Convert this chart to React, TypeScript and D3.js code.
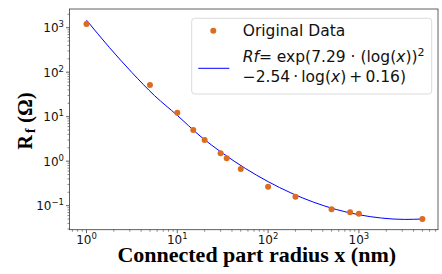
import React from "react";
import * as d3 from "d3";

// measured data points (connected part radius in nm, Rf in ohm)
const radius = [1, 5, 10, 15, 20, 30, 35, 50, 100, 200, 500, 800, 1000, 5000];
const rfValues = [1210, 51.5, 12.3, 5.0, 3.0, 1.5, 1.16, 0.67, 0.267, 0.159, 0.083, 0.071, 0.066, 0.05];

// fitted curve
const fitX = [1, 1.78, 3.16, 5.62, 10, 17.8, 31.6, 56.2, 100, 178, 316, 562, 1000, 1778, 3162, 5000];
const fitY = [1480, 363, 98.7, 29.7, 10.7, 3.69, 1.51, 0.687, 0.347, 0.194, 0.12, 0.0822, 0.0625, 0.0527, 0.0491, 0.0501];

const xTicks = [1, 10, 100, 1000];
const xTickExp = ["0", "1", "2", "3"];
const yTicks = [0.1, 1, 10, 100, 1000];
const yTickExp = ["\u22121", "0", "1", "2", "3"];

const W = 442;
const H = 274;
const plot = { left: 69.5, right: 438, top: 9, bottom: 229.7 };

export default function App() {
  const x = d3
    .scaleLog()
    .domain([Math.pow(10, -0.187), Math.pow(10, 3.871)])
    .range([plot.left, plot.right]);
  const y = d3
    .scaleLog()
    .domain([Math.pow(10, -1.54), Math.pow(10, 3.42)])
    .range([plot.bottom, plot.top]);

  const xMinor = x.ticks().filter((t) => !xTicks.includes(t));
  const yMinor = y.ticks().filter((t) => !yTicks.some((m) => Math.abs(m - t) < 1e-9));

  const fitLine = d3
    .line<number>()
    .x((d) => x(d))
    .y((_, i) => y(fitY[i]))
    .curve(d3.curveMonotoneX);

  const tickFont = "DejaVu Sans";
  const spine = "#3a3a3a";
  const serif = "Liberation Serif";

  return (
    <svg width={W} height={H} style={{ position: "absolute", left: 0, top: 0 }}>
      <rect width={W} height={H} fill="white" />

      {/* x ticks */}
      {xMinor.map((t, i) => (
        <line key={"xm" + i} x1={x(t)} x2={x(t)} y1={plot.bottom} y2={plot.bottom + 2} stroke={spine} strokeWidth={0.6} />
      ))}
      {xTicks.map((t, i) => (
        <g key={"x" + i}>
          <line x1={x(t)} x2={x(t)} y1={plot.bottom} y2={plot.bottom + 3.5} stroke={spine} strokeWidth={0.8} />
          <text x={x(t)} y={243.5} textAnchor="middle" fontFamily={tickFont} fontSize={12} fill="#111">
            10
            <tspan fontSize={8.5} dy={-5}>
              {xTickExp[i]}
            </tspan>
          </text>
        </g>
      ))}

      {/* y ticks */}
      {yMinor.map((t, i) => (
        <line key={"ym" + i} x1={plot.left - 2} x2={plot.left} y1={y(t)} y2={y(t)} stroke={spine} strokeWidth={0.6} />
      ))}
      {yTicks.map((t, i) => (
        <g key={"y" + i}>
          <line x1={plot.left - 3.5} x2={plot.left} y1={y(t)} y2={y(t)} stroke={spine} strokeWidth={0.8} />
          <text x={64} y={y(t) + 4.6} textAnchor="end" fontFamily={tickFont} fontSize={12} fill="#111">
            10
            <tspan fontSize={8.5} dy={-5}>
              {yTickExp[i]}
            </tspan>
          </text>
        </g>
      ))}

      {/* fit curve */}
      <path d={fitLine(fitX) || ""} fill="none" stroke="blue" strokeWidth={1} />

      {/* data points */}
      {radius.map((r, i) => (
        <circle key={"p" + i} cx={x(r)} cy={y(rfValues[i])} r={3} fill="#dc6c1f" />
      ))}

      {/* frame */}
      <rect
        x={plot.left}
        y={plot.top}
        width={plot.right - plot.left}
        height={plot.bottom - plot.top}
        fill="none"
        stroke={spine}
        strokeWidth={0.8}
      />

      {/* legend */}
      <g>
        <rect x={191.7} y={18.3} width={240} height={75.7} rx={3} fill="white" fillOpacity={0.8} stroke="#d0d0d0" strokeWidth={0.8} />
        <circle cx={213.3} cy={30.7} r={3} fill="#dc6c1f" />
        <text x={242.7} y={36} fontFamily={tickFont} fontSize={15.5} fill="#111">
          Original Data
        </text>
        <line x1={198.3} x2={229.3} y1={68.3} y2={68.3} stroke="blue" strokeWidth={1} />
        <text x={242.7} y={62.3} fontFamily={tickFont} fontSize={15.5} fill="#111">
          <tspan fontStyle="italic">Rf</tspan>
          <tspan>{"= exp(7.29 \u00b7 (log("}</tspan>
          <tspan fontStyle="italic">x</tspan>
          <tspan>))</tspan>
          <tspan fontSize={11} dy={-6}>
            2
          </tspan>
        </text>
        <text x={242.7} y={82.3} fontFamily={tickFont} fontSize={15.5} fill="#111">
          <tspan>{"\u22122.54\u2009\u00b7\u2009log("}</tspan>
          <tspan fontStyle="italic">x</tspan>
          <tspan>{")\u2009+\u20090.16)"}</tspan>
        </text>
      </g>

      {/* axis titles */}
      <text
        x={(plot.left + plot.right) / 2 + 3}
        y={262}
        textAnchor="middle"
        fontFamily={serif}
        fontWeight="bold"
        fontSize={22}
        fill="#000"
      >
        Connected part radius x (nm)
      </text>
      <g transform="translate(31.5, 0) rotate(-90)" fontFamily={serif} fontWeight="bold" fill="#000">
        <text x={-149.5} y={0} fontSize={20}>
          R
        </text>
        <text x={-133} y={3.5} fontSize={14}>
          f
        </text>
        <text x={-123} y={0} fontSize={21}>
          (Ω)
        </text>
      </g>
    </svg>
  );
}
